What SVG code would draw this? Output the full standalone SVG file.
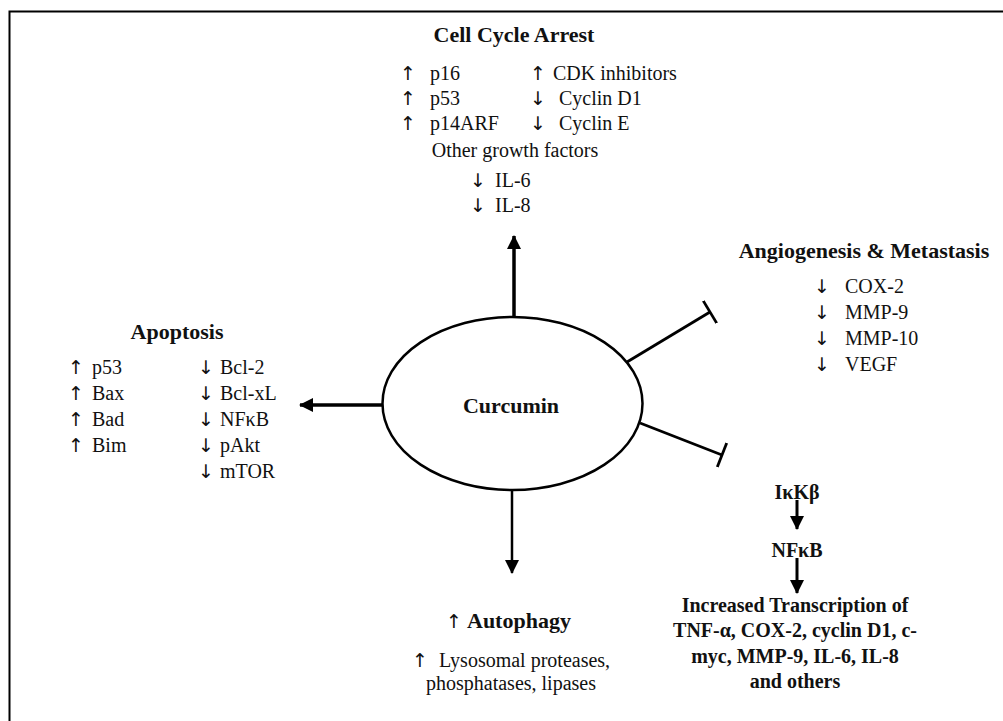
<svg xmlns="http://www.w3.org/2000/svg" width="1003" height="721" viewBox="0 0 1003 721">
<style>
.t{font-family:"Liberation Serif","DejaVu Serif",serif;fill:#111;font-size:20px}
.a{font-family:"DejaVu Sans",sans-serif;fill:#111;font-size:19px}
.b{font-weight:bold}
.h{font-family:"Liberation Serif","DejaVu Serif",serif;fill:#111;font-weight:bold;font-size:22px}
.c{text-anchor:middle}
.ln{stroke:#000;fill:none}
.ar{stroke-width:3.5}
.inh{stroke-width:2.8}
</style>
<defs>
<marker id="ah" viewBox="0 0 14 14" markerWidth="14" markerHeight="14" refX="13" refY="7" orient="auto" markerUnits="userSpaceOnUse">
<path d="M0,0 L14,7 L0,14 z" fill="#000"/>
</marker>
<marker id="tb" viewBox="0 0 4 26" markerWidth="4" markerHeight="26" refX="2" refY="13" orient="auto" markerUnits="userSpaceOnUse">
<path d="M2,0 L2,26" stroke="#000" stroke-width="2.8"/>
</marker>
</defs>
<rect width="1003" height="721" fill="#fff"/>
<path d="M9.5,721 L9.5,11.5 L1003,11.5" class="ln" stroke-width="2"/>

<g id="connectors">
<line x1="514" y1="317" x2="514" y2="236" class="ln ar" marker-end="url(#ah)"/>
<line x1="383" y1="405" x2="300" y2="405" class="ln ar" marker-end="url(#ah)"/>
<line x1="512" y1="490" x2="512" y2="573" class="ln" stroke-width="2.5" marker-end="url(#ah)"/>
<line x1="627" y1="362" x2="710" y2="312" class="ln inh" marker-end="url(#tb)"/>
<line x1="640" y1="423" x2="722" y2="455" class="ln inh" marker-end="url(#tb)"/>
<line x1="797" y1="500" x2="797" y2="529" class="ln" stroke-width="3" marker-end="url(#ah)"/>
<line x1="797" y1="558" x2="797" y2="593" class="ln" stroke-width="3" marker-end="url(#ah)"/>
</g>

<g id="curcumin">
<ellipse cx="512.5" cy="403.5" rx="130" ry="86.5" class="ln" stroke-width="2.5"/>
<text x="511" y="413" class="h c" font-size="28">Curcumin</text>
</g>

<g id="cell-cycle-arrest">
<text x="514" y="42" class="h c">Cell Cycle Arrest</text>
<text x="400" y="80" class="a">↑</text><text x="430" y="80" class="t">p16</text>
<text x="400" y="105" class="a">↑</text><text x="430" y="105" class="t">p53</text>
<text x="400" y="130" class="a">↑</text><text x="430" y="130" class="t">p14ARF</text>
<text x="530" y="80" class="a">↑</text><text x="553" y="80" class="t">CDK inhibitors</text>
<text x="530" y="105" class="a">↓</text><text x="559" y="105" class="t">Cyclin D1</text>
<text x="530" y="130" class="a">↓</text><text x="559" y="130" class="t">Cyclin E</text>
<text x="515" y="157" class="t c">Other growth factors</text>
<text x="470" y="187" class="a">↓</text><text x="495" y="187" class="t">IL-6</text>
<text x="470" y="212" class="a">↓</text><text x="495" y="212" class="t">IL-8</text>
</g>

<g id="angiogenesis">
<text x="864" y="258" class="h c">Angiogenesis &amp; Metastasis</text>
<text x="814" y="293" class="a">↓</text><text x="845" y="293" class="t">COX-2</text>
<text x="814" y="319" class="a">↓</text><text x="845" y="319" class="t">MMP-9</text>
<text x="814" y="345" class="a">↓</text><text x="845" y="345" class="t">MMP-10</text>
<text x="814" y="371" class="a">↓</text><text x="845" y="371" class="t">VEGF</text>
</g>

<g id="apoptosis">
<text x="177" y="339" class="h c">Apoptosis</text>
<text x="68" y="374" class="a">↑</text><text x="92" y="374" class="t">p53</text>
<text x="68" y="400" class="a">↑</text><text x="92" y="400" class="t">Bax</text>
<text x="68" y="426" class="a">↑</text><text x="92" y="426" class="t">Bad</text>
<text x="68" y="452" class="a">↑</text><text x="92" y="452" class="t">Bim</text>
<text x="198" y="374" class="a">↓</text><text x="220" y="374" class="t">Bcl-2</text>
<text x="198" y="400" class="a">↓</text><text x="220" y="400" class="t">Bcl-xL</text>
<text x="198" y="426" class="a">↓</text><text x="220" y="426" class="t">NFκB</text>
<text x="198" y="452" class="a">↓</text><text x="220" y="452" class="t">pAkt</text>
<text x="198" y="478" class="a">↓</text><text x="220" y="478" class="t">mTOR</text>
</g>

<g id="autophagy">
<text x="446" y="628" class="a">↑</text><text x="467" y="628" class="h">Autophagy</text>
<text x="412" y="667" class="a">↑</text><text x="439" y="667" class="t">Lysosomal proteases,</text>
<text x="511" y="690" class="t c">phosphatases, lipases</text>
</g>

<g id="ikkb">
<text x="797" y="499" class="t b c" font-size="18">IκKβ</text>
</g>
<g id="nfkb">
<text x="797" y="557" class="t b c" font-size="18">NFκB</text>
</g>
<g id="transcription">
<text x="795" y="612" class="t b c" font-size="19">Increased Transcription of</text>
<text x="795" y="637" class="t b c" font-size="19">TNF-α, COX-2, cyclin D1, c-</text>
<text x="795" y="663" class="t b c" font-size="19">myc, MMP-9, IL-6, IL-8</text>
<text x="795" y="688" class="t b c" font-size="19">and others</text>
</g>
</svg>
